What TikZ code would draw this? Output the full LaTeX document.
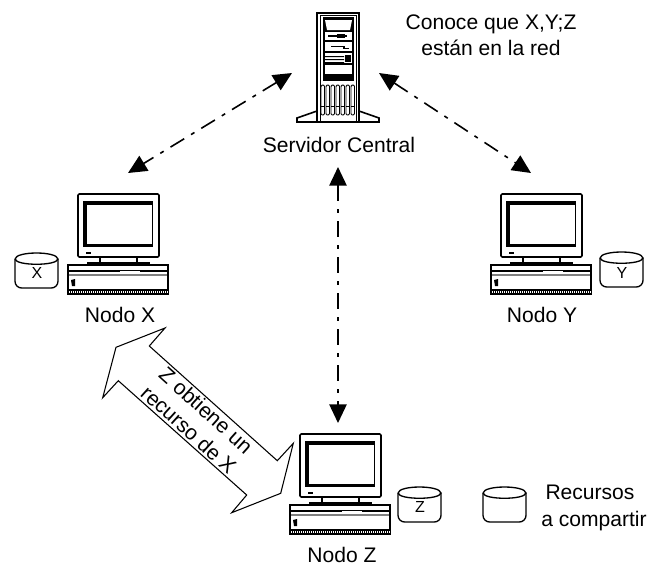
\documentclass[tikz,border=0pt]{standalone}
\usepackage{fontspec}
\setmainfont{Liberation Sans}
\usetikzlibrary{arrows.meta}
\tikzset{
    etiqueta/.style={font=\fontsize{15.8}{18.5}\selectfont,align=center,inner sep=0pt},
    letra/.style={font=\fontsize{12}{14}\selectfont,inner sep=0pt},
    enlace/.style={<->,line width=1.2pt,dash pattern=on 12pt off 6pt on 3pt off 6pt},
    computadora/.pic={
        \draw[line width=1.2pt,fill=white,rounded corners=1pt] (0,0) rectangle (81,63);
        \fill (5,7) rectangle (75,53);
        \fill[white] (9,11) rectangle (74,50);
        \fill (8,58) rectangle (13,60);
        \draw[line width=1pt] (22,63)--(22,68) (59,63)--(59,68);
        \fill (9,68) rectangle (72,71);
        \draw[line width=1.2pt] (-10,71) rectangle (90,100);
        \fill (-9,76) rectangle (89,78);
        \fill[gray] (-9,80) rectangle (89,82);
        \fill[white] (42,76.5) rectangle (62,77.5);
        \fill (-7,86) -- (-3,85) -- (-3,92) -- (-6,92) -- cycle;
        \fill (-10,95) rectangle (90,100);
        \foreach \x in {-9,-7,...,89}
        {
            \fill[white] (\x,96.8) rectangle (\x+1,98.5);
        }
    },
    servidor/.pic={
        \draw[line width=1.2pt] (0,98) -- (-20,105) -- (-20,109) -- (62,109) -- (62,105) -- (42,98);
        \draw[line width=1.6pt,fill=white] (0,0) rectangle (42,109);
        \draw[line width=.6pt] (3,2) rectangle (39,109);
        \fill (6,4) rectangle (37,68);
        \fill[white] (8,7) -- (35,7) -- (33,17) -- (10,17) -- cycle;
        \foreach \y/\h in {19/8,29/9,40/10,52/9}
        {
            \fill[white] (8,\y) rectangle (35,\y+\h);
        }
        \draw[line width=1pt] (11,23) -- (30,23);
        \fill (20,21) rectangle (28,25);
        \draw[line width=1pt] (14,33.5) -- (27,33.5) -- (27,35.5) -- (32,35.5);
        \fill (8,43) rectangle (27,44) (8,46) rectangle (27,47) (8,49) rectangle (27,50);
        \fill (28,42) rectangle (34,49);
        \foreach \x in {4,9,...,34}
        {
            \draw[line width=.7pt,rounded corners=1pt] (\x,72) rectangle (\x+3.5,102);
            \draw[line width=.7pt] (\x,93) -- (\x+3.5,93);
        }
    },
    disco/.pic={
        \draw[line width=1pt,rounded corners=5pt] (0,6) -- (0,35) -- (43,35) -- (43,6);
        \draw[line width=1pt] (0,6) .. controls (1,-2) and (42,-2) .. (43,6) .. controls (42,13) and (1,13) .. (0,6);
    }
}
\begin{document}
\begin{tikzpicture}[x=.75pt,y=-.75pt,>={Triangle[length=14pt,width=13pt]}]
\useasboundingbox (0,0) rectangle (649,565);

\pic at (317,13) {servidor};
\pic at (78,194) {computadora};
\pic at (501,194) {computadora};
\pic at (300,434) {computadora};

\pic at (15,253) {disco};
\pic at (600,252) {disco};
\pic at (398,487) {disco};
\pic at (483,487) {disco};
\node[letra] (discox) at (37,273) {X};
\node[letra] (discoy) at (622,273) {Y};
\node[letra] (discoz) at (420,507) {Z};

\node[etiqueta] (servidorcentral) at (339,145) {Servidor Central};
\node[etiqueta] (nodox) at (120,315) {Nodo X};
\node[etiqueta] (nodoy) at (542,315) {Nodo Y};
\node[etiqueta] (nodoz) at (342,555) {Nodo Z};
\node[etiqueta] (conoce) at (491,35) {Conoce que X,Y;Z\\[1pt]están en la red};
\node[etiqueta] (recursos) at (594,508) {\hspace*{-6pt}Recursos\\[2pt]a compartir};

\coordinate (serverl) at (292,73);
\coordinate (serverr) at (379,73);
\coordinate (serverb) at (338,167);
\coordinate (pcx) at (128,173);
\coordinate (pcy) at (531,173);
\coordinate (pcz) at (338,423);
\draw[enlace] (serverl)--(pcx);
\draw[enlace] (serverr)--(pcy);
\draw[enlace] (serverb)--(pcz);

\draw[line width=.8pt] (165,328)--(149.3,346)--(277.3,460.7)--(293.3,443.3)--(280.7,493.3)--(231.7,512.7)--(246.7,495)--(118.3,380.7)--(102.7,397.7)--(116,347.3)--cycle;
\node[etiqueta,rotate=-42] (obtiene) at (197.5,420) {Z obtiene un\\[1pt]recurso de X};
\end{tikzpicture}
\end{document}
